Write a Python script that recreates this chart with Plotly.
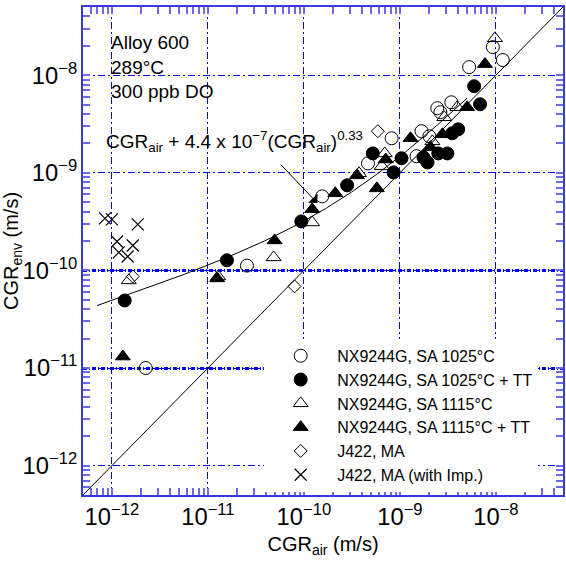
import numpy as np
import plotly.graph_objects as go

# ---- data (CGR_air, CGR_env in m/s) ----
sa1025_air = [2.25e-12, 2.55e-11, 1.55e-10, 4.65e-10, 8.2e-10, 1.49e-9, 1.68e-9, 2.03e-9,
              2.45e-9, 2.64e-9, 3.43e-9, 5.26e-9, 9.3e-9, 1.18e-8]
sa1025_env = [1.0e-11, 1.12e-10, 5.74e-10, 1.25e-9, 2.26e-9, 1.48e-9, 2.67e-9, 2.37e-9,
              4.59e-9, 4.18e-9, 5.28e-9, 1.21e-8, 1.94e-8, 1.43e-8]

sa1025tt_air = [1.36e-12, 1.58e-11, 9.4e-11, 2.82e-10, 5.22e-10, 8.6e-10, 1.04e-9, 1.76e-9,
                1.94e-9, 2.51e-9, 3.12e-9, 3.51e-9, 4.05e-9, 5.93e-9, 6.84e-9]
sa1025tt_env = [4.92e-11, 1.27e-10, 3.18e-10, 7.45e-10, 1.58e-9, 1.01e-9, 1.41e-9, 1.44e-9,
                1.28e-9, 1.58e-9, 1.58e-9, 2.54e-9, 2.79e-9, 7.71e-9, 5.04e-9]

sa1115_air = [1.5e-12, 1.28e-11, 4.84e-11, 1.22e-10, 3.75e-10, 6.95e-10, 6.47e-10, 2.18e-9,
              2.9e-9, 3.96e-9, 9.77e-9]
sa1115_env = [7.9e-11, 8.67e-11, 1.36e-10, 3.1e-10, 9.9e-10, 1.58e-9, 1.17e-9, 2.1e-9,
              3.71e-9, 4.7e-9, 2.39e-8]

sa1115tt_air = [1.3e-12, 1.25e-11, 4.95e-11, 1.22e-10, 2.12e-10, 3.57e-10, 5.75e-10, 7.12e-10,
                1.29e-9, 2.08e-9, 2.77e-9, 5.01e-9, 7.69e-9]
sa1115tt_env = [1.31e-11, 8.28e-11, 2.03e-10, 4.23e-10, 6.17e-10, 9.42e-10, 6.93e-10, 1.37e-9,
                2.26e-9, 1.83e-9, 2.48e-9, 4.7e-9, 1.3e-8]

j422_air = [1.65e-12, 7.98e-11, 5.89e-10]
j422_env = [8.67e-11, 6.86e-11, 2.67e-9]

j422imp_air = [8.47e-13, 1.0e-12, 1.86e-12, 1.13e-12, 1.65e-12, 1.18e-12, 1.46e-12]
j422imp_env = [3.41e-10, 3.33e-10, 2.96e-10, 1.98e-10, 1.80e-10, 1.53e-10, 1.39e-10]

series_names = ["NX9244G, SA 1025°C", "NX9244G, SA 1025°C + TT", "NX9244G, SA 1115°C",
                "NX9244G, SA 1115°C + TT", "J422, MA", "J422, MA (with Imp.)"]

# fitted curve CGR_env = CGR_air + A * CGR_air^n
FIT_A = 4.4e-7
FIT_N = 0.33
fit_x_start, fit_x_end = 7e-13, 5e-9
axis_min, axis_max = 5e-13, 5e-8

FONT = "Liberation Sans, Arial, Helvetica, sans-serif"
BLUE_LINE = "#3a3ae0"
BLUE_TICK = "#6b6bec"
BLUE_GRID = "#0000ff"

fit_x = np.logspace(np.log10(fit_x_start), np.log10(fit_x_end), 200)
fit_y = fit_x + FIT_A * fit_x ** FIT_N

fig = go.Figure()
fig.add_trace(go.Scatter(x=fit_x, y=fit_y, mode="lines", line=dict(color="black", width=1),
                         showlegend=False, hoverinfo="skip"))
fig.add_trace(go.Scatter(x=[axis_min, axis_max], y=[axis_min, axis_max], mode="lines",
                         line=dict(color="black", width=1), showlegend=False, hoverinfo="skip"))

styles = [
    ("circle-open", 13, 1),
    ("circle", 13, 1),
    ("triangle-up-open", 13, 1),
    ("triangle-up", 13, 1),
    ("diamond-open", 10, 1),
    ("x-thin-open", 12, 1.2),
]
datasets = [(sa1025_air, sa1025_env), (sa1025tt_air, sa1025tt_env), (sa1115_air, sa1115_env),
            (sa1115tt_air, sa1115tt_env), (j422_air, j422_env), (j422imp_air, j422imp_env)]
for (xs, ys), name, (sym, size, lw) in zip(datasets, series_names, styles):
    fig.add_trace(go.Scatter(
        x=xs, y=ys, mode="markers", name=name,
        marker=dict(symbol=sym, size=size, color="black", line=dict(color="black", width=lw)),
    ))

# invisible trace on yaxis2 to carry the heavier grid lines
fig.add_trace(go.Scatter(x=[axis_min], y=[axis_min], yaxis="y2", mode="markers",
                         marker=dict(opacity=0), showlegend=False, hoverinfo="skip"))

rng = [np.log10(axis_min), np.log10(axis_max)]
common = dict(
    type="log", range=rng, dtick=1, exponentformat="power", showexponent="all",
    showline=True, linecolor=BLUE_LINE, linewidth=2, mirror="allticks",
    ticks="inside", ticklen=7, tickwidth=2, tickcolor=BLUE_TICK,
    showgrid=True, gridcolor=BLUE_GRID, gridwidth=1, griddash="7px,3px,2px,3px",
    zeroline=False,
    tickfont=dict(family=FONT, size=19, color="black"),
    minor=dict(ticks="inside", ticklen=7, tickwidth=2, tickcolor=BLUE_TICK, dtick="D1",
               showgrid=False),
)

fig.update_layout(
    width=566, height=565,
    margin=dict(l=83, r=1, t=7, b=70),
    paper_bgcolor="white", plot_bgcolor="white",
    font=dict(family=FONT, size=16, color="black"),
    xaxis=dict(**common, title=dict(text="CGR<sub>air</sub> (m/s)",
                                    font=dict(family=FONT, size=20), standoff=8)),
    yaxis=dict(**common, title=dict(text="CGR<sub>env</sub> (m/s)",
                                    font=dict(family=FONT, size=20), standoff=6)),
    yaxis2=dict(type="log", range=rng, overlaying="y", side="left",
                tickvals=[1e-11, 1e-10], showticklabels=False, ticks="",
                showgrid=True, gridcolor="#0000ff", gridwidth=2.5, griddash="4px,2px,1px,2px",
                showline=False, zeroline=False),
    legend=dict(x=0.3775, y=0.32, xanchor="left", yanchor="top", bgcolor="white",
                borderwidth=0, font=dict(family=FONT, size=16, color="black"),
                itemwidth=63, tracegroupgap=0),
    annotations=[
        dict(text="Alloy 600<br>289°C<br>300 ppb DO", xref="paper", yref="paper",
             x=0.055, y=0.952, xanchor="left", yanchor="top", align="left", showarrow=False,
             font=dict(family=FONT, size=19)),
        dict(text="CGR<sub>air</sub> + 4.4 x 10<sup>\u22127</sup>(CGR<sub>air</sub>)<sup>0.33</sup>",
             xref="paper", yref="paper", x=0.044, y=0.725, xanchor="left", yanchor="middle",
             showarrow=False, font=dict(family=FONT, size=19)),
        dict(text="", x=np.log10(1.38e-10), y=np.log10(4.9e-10), xref="x", yref="y",
             showarrow=True, ax=-38, ay=-40, arrowhead=1, arrowsize=2.2, arrowwidth=1,
             arrowcolor="black"),
    ],
)

fig.write_html("out.html")
